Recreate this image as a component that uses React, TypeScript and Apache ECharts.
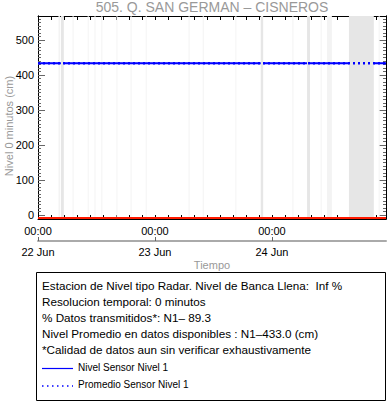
import React, { useEffect, useRef } from "react";
import * as echarts from "echarts";

// ---- data (hours since 22 Jun 00:00) ----
const titleText = "505. Q. SAN GERMAN \u2013 CISNEROS";
const yAxisTitle = "Nivel 0 minutos (cm)";
const xAxisTitle = "Tiempo";
const dayLabels = ["22 Jun", "23 Jun", "24 Jun"];
const dayHours = [0, 24, 48];
const timeLabel = "00:00";
const xMin = 0;
const xMax = 71.4;
const yMin = -11;
const yMax = 568;
const yMajorTicks = [0, 100, 200, 300, 400, 500];
const nivelValue = 433;
const promedioValue = 433.0;
const redLevel = -8;
const nivelSegments: [number, number][] = [
  [0, 4.7],
  [5.3, 45.7],
  [46.2, 55.2],
  [55.8, 63.8],
  [68.9, 71.4],
];
const faintGaps: [number, number][] = [
  [4.2, 4.5], [7.1, 7.3], [10.2, 10.4], [11.6, 11.8], [13.0, 13.2],
  [16.1, 16.3], [19.0, 19.2], [22.1, 22.3], [30.9, 31.1], [33.8, 34.0],
  [40.5, 40.7], [52.2, 52.4], [58.0, 58.2], [59.3, 60.3], [69.9, 70.1],
];
const darkGaps: [number, number][] = [
  [4.7, 5.3], [45.7, 46.2], [55.2, 55.8], [63.8, 68.9],
];
const infoLines = [
  "Estacion de Nivel tipo Radar. Nivel de Banca Llena:  Inf %",
  "Resolucion temporal: 0 minutos",
  "% Datos transmitidos*: N1\u2013 89.3",
  "Nivel Promedio en datos disponibles : N1\u2013433.0 (cm)",
  "*Calidad de datos aun sin verificar exhaustivamente",
];
const legendNames = ["Nivel Sensor Nivel 1", "Promedio Sensor Nivel 1"];

const FONT = "'Liberation Sans', Arial, Helvetica, sans-serif";

export default function App() {
  const ref = useRef<HTMLDivElement>(null);
  useEffect(() => {
    if (!ref.current) return;
    const chart = echarts.init(ref.current, null, { renderer: "svg" });

    const minorX: number[] = [];
    for (let k = 0; k * (24 / 9) <= xMax + 1e-6; k++) minorX.push(k * (24 / 9));
    const minorY: number[] = [];
    for (let v = 0; v <= 560; v += 10) minorY.push(v);

    const nivelData: (number | null)[][] = [];
    nivelSegments.forEach(([a, b], i) => {
      if (i > 0) nivelData.push([(a + nivelSegments[i - 1][1]) / 2, null as any]);
      nivelData.push([a, nivelValue]);
      nivelData.push([b, nivelValue]);
    });

    const tickColor = "#666";
    const yAx = (pos: string, ticks: number[], len: number) => ({
      type: "value",
      position: pos,
      min: yMin,
      max: yMax,
      axisLine: { show: true, onZero: false, lineStyle: { color: "#000", width: 1 } },
      axisTick: { show: true, inside: true, length: len, customValues: ticks, lineStyle: { color: tickColor } },
      axisLabel: { show: false },
      splitLine: { show: false },
    });

    chart.setOption({
      animation: false,
      textStyle: { fontFamily: FONT },
      grid: { left: 38, right: 2, top: 16, bottom: 185 },
      xAxis: [
        {
          type: "value",
          position: "bottom",
          min: xMin,
          max: xMax,
          axisLine: { show: true, onZero: false, lineStyle: { color: "#000" } },
          axisTick: { show: true, inside: true, length: 4, customValues: minorX, lineStyle: { color: "#000" } },
          axisLabel: {
            show: true,
            customValues: dayHours,
            formatter: () => timeLabel,
            color: "#000",
            fontSize: 11,
            fontFamily: FONT,
            margin: 6,
          },
          splitLine: { show: false },
        },
        {
          type: "value",
          position: "top",
          min: xMin,
          max: xMax,
          axisLine: { show: true, onZero: false, lineStyle: { color: "#000" } },
          axisTick: { show: true, inside: true, length: 4, customValues: minorX, lineStyle: { color: "#000" } },
          axisLabel: { show: false },
          splitLine: { show: false },
        },
        {
          type: "value",
          position: "bottom",
          offset: 22,
          min: xMin,
          max: xMax,
          axisLine: { show: true, onZero: false, lineStyle: { color: "#aaa", width: 2 } },
          axisTick: { show: true, inside: true, length: 4, customValues: dayHours, lineStyle: { color: "#666" } },
          axisLabel: {
            show: true,
            customValues: dayHours,
            formatter: (v: number) => dayLabels[dayHours.indexOf(Math.round(v))] ?? "",
            color: "#000",
            fontSize: 11,
            fontFamily: FONT,
            margin: 5,
          },
          splitLine: { show: false },
        },
      ],
      yAxis: [
        {
          ...yAx("left", yMajorTicks, 7),
          axisLabel: {
            show: true,
            customValues: yMajorTicks,
            color: "#000",
            fontSize: 11,
            fontFamily: FONT,
            margin: 4,
          },
        },
        yAx("left", minorY, 3),
        yAx("right", yMajorTicks, 7),
        yAx("right", minorY, 3),
      ],
      series: [
        {
          type: "line",
          name: "bands",
          data: [],
          silent: true,
          markArea: {
            silent: true,
            data: [
              ...faintGaps.map(([a, b]) => [
                { xAxis: a, itemStyle: { color: "#f3f3f3", opacity: 1 } },
                { xAxis: b },
              ]),
              ...darkGaps.map(([a, b]) => [
                { xAxis: a, itemStyle: { color: "#e6e6e6", opacity: 1 } },
                { xAxis: b },
              ]),
            ],
          },
        },
        {
          type: "line",
          name: "red",
          data: [[xMin, redLevel], [xMax, redLevel]],
          symbol: "none",
          lineStyle: { color: "#ff1a00", width: 2 },
          silent: true,
        },
        {
          type: "line",
          name: legendNames[0],
          data: nivelData,
          connectNulls: false,
          symbol: "none",
          lineStyle: { color: "#0000ff", width: 2 },
          silent: true,
        },
        {
          type: "line",
          name: legendNames[1],
          data: [[xMin, promedioValue], [xMax, promedioValue]],
          symbol: "none",
          lineStyle: { color: "#0000ff", width: 2.5, type: [2, 3] },
          silent: true,
        },
      ],
      graphic: [
        {
          type: "text",
          style: {
            x: 212,
            y: 7,
            text: titleText,
            fill: "#999",
            font: `14px ${FONT}`,
            align: "center",
            verticalAlign: "middle",
          },
        },
        {
          type: "text",
          x: 9,
          y: 126,
          rotation: Math.PI / 2,
          style: {
            x: 0,
            y: 0,
            text: yAxisTitle,
            fill: "#999",
            font: `11px ${FONT}`,
            align: "center",
            verticalAlign: "middle",
          },
        },
        {
          type: "text",
          style: {
            x: 212,
            y: 265,
            text: xAxisTitle,
            fill: "#999",
            font: `11px ${FONT}`,
            align: "center",
            verticalAlign: "middle",
          },
        },
        {
          type: "rect",
          shape: { x: 36.5, y: 272.5, width: 349, height: 128 },
          style: { fill: "#fff", stroke: "#000", lineWidth: 1 },
        },
        ...infoLines.map((t, i) => ({
          type: "text",
          style: {
            x: 42,
            y: 285 + i * 16,
            text: t,
            fill: "#000",
            font: `11.7px ${FONT}`,
            align: "left",
            verticalAlign: "middle",
          },
        })),
        {
          type: "line",
          shape: { x1: 42, y1: 368.5, x2: 73, y2: 368.5 },
          style: { stroke: "#0000ff", lineWidth: 1.2 },
        },
        {
          type: "line",
          shape: { x1: 42, y1: 386, x2: 73, y2: 386 },
          style: { stroke: "#0000ff", lineWidth: 1.5, lineDash: [1.5, 3.5] },
        },
        ...legendNames.map((t, i) => ({
          type: "text",
          style: {
            x: 78,
            y: 367 + i * 17,
            text: t,
            fill: "#000",
            font: `10px ${FONT}`,
            align: "left",
            verticalAlign: "middle",
          },
        })),
      ],
    });
    return () => chart.dispose();
  }, []);
  return <div ref={ref} style={{ width: 388, height: 404, position: "absolute", left: 0, top: 0 }} />;
}
